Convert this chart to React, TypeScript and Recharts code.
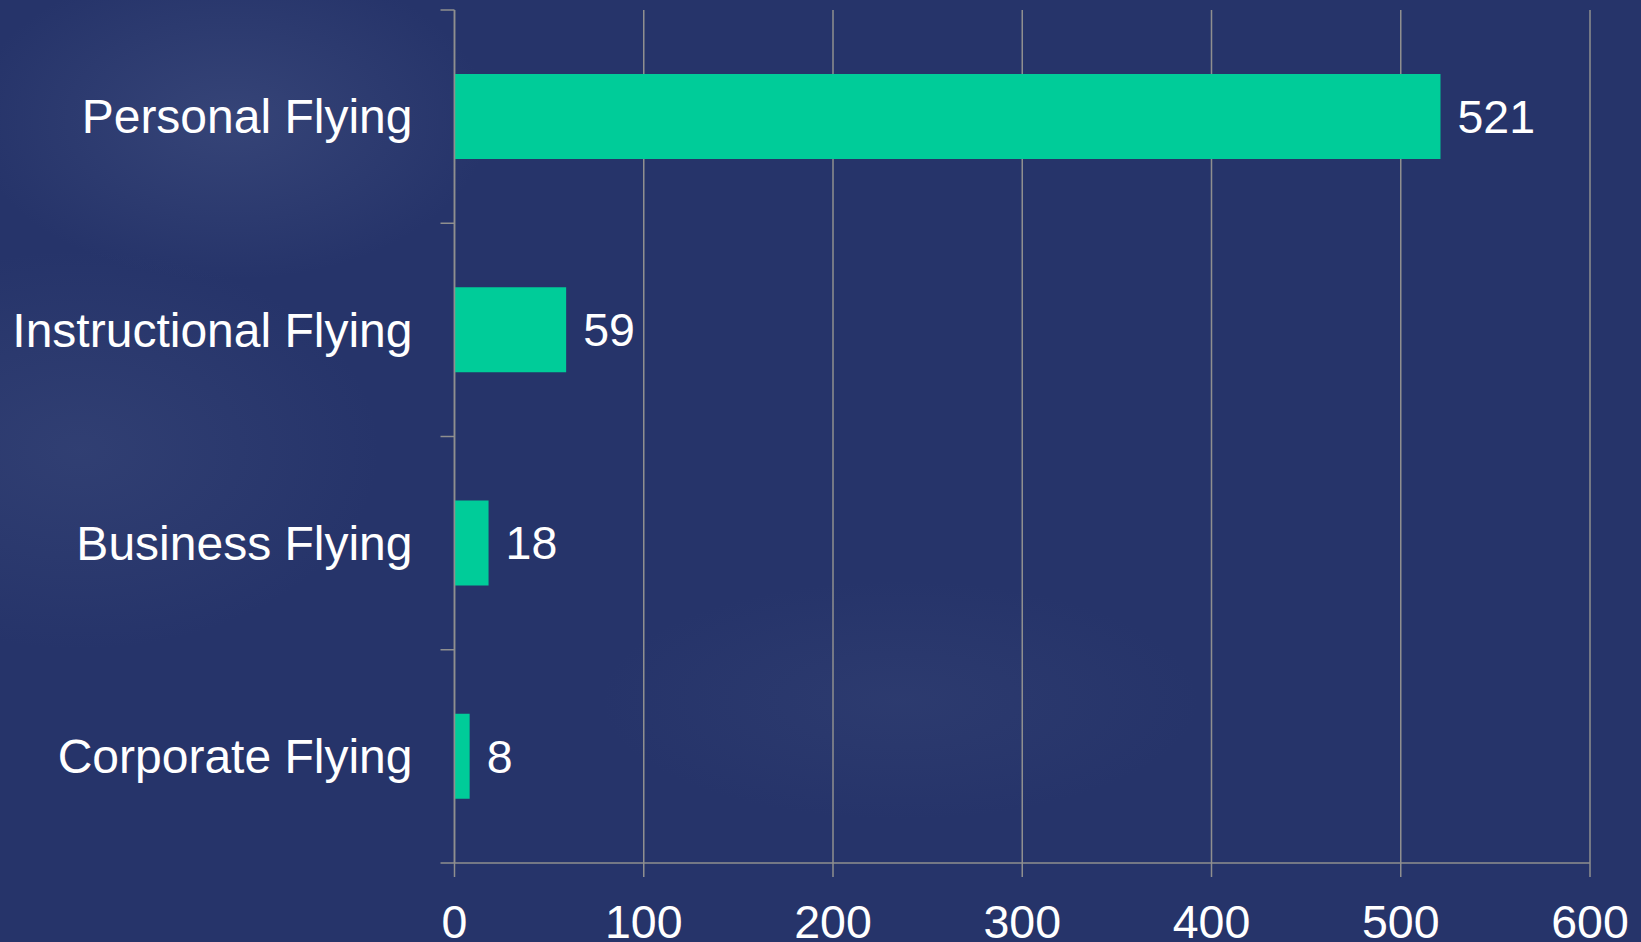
import { BarChart, Bar, XAxis, YAxis, CartesianGrid, LabelList } from 'recharts';

const categories = ['Personal Flying', 'Instructional Flying', 'Business Flying', 'Corporate Flying'];
const counts = [521, 59, 18, 8];
const xTicks = [0, 100, 200, 300, 400, 500, 600];

const data = categories.map((name, i) => ({ name, value: counts[i] }));

const W = 1641;
const H = 942;
const PLOT_TOP = 10;
const PLOT_BOTTOM = 863;
const BAND = (PLOT_BOTTOM - PLOT_TOP) / categories.length;
const AXIS_COLOR = '#8f8f8f';
const FONT = '"Liberation Sans", Arial, sans-serif';

// category label at band centre, tick mark at the band boundary
const CategoryTick = ({ x, y, payload, index }: any) => {
    const top = y - BAND / 2;
    return (
        <g>
            <line x1={x + 28} x2={x + 42} y1={top} y2={top} stroke={AXIS_COLOR} strokeWidth={1.5} />
            {index === categories.length - 1 && (
                <line x1={x + 28} x2={x + 42} y1={y + BAND / 2} y2={y + BAND / 2} stroke={AXIS_COLOR} strokeWidth={1.5} />
            )}
            <text x={x} y={y} dy="0.35em" textAnchor="end" fill="#ffffff" fontSize={48} fontFamily={FONT}>
                {payload.value}
            </text>
        </g>
    );
};

export default function App() {
    return (
        <div
            style={{
                position: 'fixed',
                left: 0,
                top: 0,
                width: W,
                height: H,
                background:
                    'radial-gradient(ellipse 260px 160px at 230px 120px, rgba(90,105,150,0.3), rgba(0,0,0,0)), radial-gradient(ellipse 300px 200px at 80px 450px, rgba(80,95,140,0.25), rgba(0,0,0,0)), radial-gradient(ellipse 300px 120px at 900px 700px, rgba(70,85,130,0.2), rgba(0,0,0,0)), #26346a',
            }}
        >
            <BarChart
                width={W}
                height={H}
                data={data}
                layout="vertical"
                barCategoryGap="30%"
                margin={{ top: PLOT_TOP, right: 51, bottom: 0, left: 0 }}
            >
                <CartesianGrid horizontal={false} stroke={AXIS_COLOR} strokeWidth={1.5} />
                <XAxis
                    type="number"
                    domain={[0, 600]}
                    ticks={xTicks}
                    height={H - PLOT_BOTTOM}
                    tickSize={14}
                    tickMargin={28}
                    axisLine={{ stroke: AXIS_COLOR, strokeWidth: 1.5 }}
                    tickLine={{ stroke: AXIS_COLOR, strokeWidth: 1.5 }}
                    tick={{ fill: '#ffffff', fontSize: 46.5, fontFamily: FONT }}
                    interval={0}
                />
                <YAxis
                    type="category"
                    dataKey="name"
                    width={454.5}
                    tickSize={14}
                    tickMargin={28}
                    tickLine={false}
                    axisLine={{ stroke: AXIS_COLOR, strokeWidth: 1.5 }}
                    tick={<CategoryTick />}
                    interval={0}
                />
                <Bar dataKey="value" fill="#00cc99" isAnimationActive={false}>
                    <LabelList
                        dataKey="value"
                        position="right"
                        offset={17}
                        fill="#ffffff"
                        fontSize={46.5}
                        fontFamily={FONT}
                    />
                </Bar>
            </BarChart>
        </div>
    );
}
